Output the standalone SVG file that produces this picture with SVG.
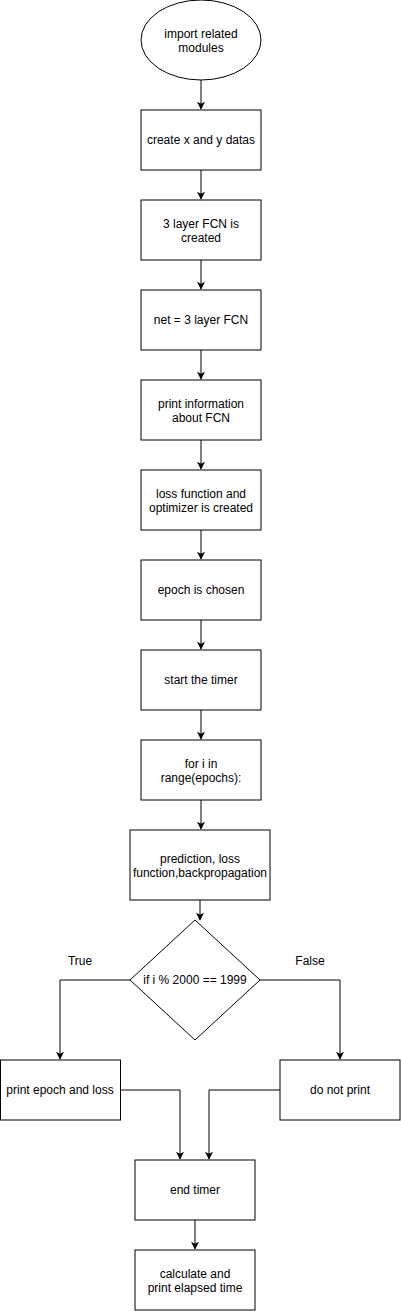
<svg xmlns="http://www.w3.org/2000/svg" width="401" height="1311" viewBox="0 0 401 1311">
<style>
.n{fill:#fff;stroke:#000;stroke-width:1}
.t{font-family:"Liberation Sans",Arial,sans-serif;font-size:12px;fill:#000;text-anchor:middle}
.c{fill:none;stroke:#000;stroke-width:1}
</style>
<defs>
<marker id="a" viewBox="0 0 10 10" refX="9" refY="5" markerWidth="8" markerHeight="8" markerUnits="userSpaceOnUse" orient="auto">
<path d="M0,0 L10,5 L0,10 L2.5,5 Z" fill="#000"/>
</marker>
</defs>
<rect width="401" height="1311" fill="#fff"/>
<g id="connectors">
<path class="c" d="M201,80 V109" marker-end="url(#a)"/>
<path class="c" d="M201,170 V199" marker-end="url(#a)"/>
<path class="c" d="M201,260 V289" marker-end="url(#a)"/>
<path class="c" d="M201,350 V379" marker-end="url(#a)"/>
<path class="c" d="M201,440 V469" marker-end="url(#a)"/>
<path class="c" d="M201,530 V559" marker-end="url(#a)"/>
<path class="c" d="M201,620 V649" marker-end="url(#a)"/>
<path class="c" d="M201,710 V739" marker-end="url(#a)"/>
<path class="c" d="M201,800 V829" marker-end="url(#a)"/>
<path class="c" d="M200,900 V920" marker-end="url(#a)"/>
<path class="c" d="M130,980 H60 V1059" marker-end="url(#a)"/>
<path class="c" d="M260,980 H340 V1059" marker-end="url(#a)"/>
<path class="c" d="M120,1090 H180 V1159" marker-end="url(#a)"/>
<path class="c" d="M280,1090 H209 V1159" marker-end="url(#a)"/>
<path class="c" d="M195,1220 V1249" marker-end="url(#a)"/>
</g>
<g id="n0"><ellipse class="n" cx="201" cy="40" rx="60" ry="40"/><text class="t" x="201" y="38">import related</text><text class="t" x="201" y="52">modules</text></g>
<g id="n1"><rect class="n" x="141" y="110" width="120" height="60"/><text class="t" x="201" y="144">create x and y datas</text></g>
<g id="n2"><rect class="n" x="141" y="200" width="120" height="60"/><text class="t" x="201" y="228">3 layer FCN is</text><text class="t" x="201" y="242">created</text></g>
<g id="n3"><rect class="n" x="141" y="290" width="120" height="60"/><text class="t" x="201" y="324">net = 3 layer FCN</text></g>
<g id="n4"><rect class="n" x="141" y="380" width="120" height="60"/><text class="t" x="201" y="408">print information</text><text class="t" x="201" y="422">about FCN</text></g>
<g id="n5"><rect class="n" x="141" y="470" width="120" height="60"/><text class="t" x="201" y="498">loss function and</text><text class="t" x="201" y="512">optimizer is created</text></g>
<g id="n6"><rect class="n" x="141" y="560" width="120" height="60"/><text class="t" x="201" y="594">epoch is chosen</text></g>
<g id="n7"><rect class="n" x="141" y="650" width="120" height="60"/><text class="t" x="201" y="684">start the timer</text></g>
<g id="n8"><rect class="n" x="141" y="740" width="120" height="60"/><text class="t" x="201" y="768">for i in</text><text class="t" x="201" y="782">range(epochs):</text></g>
<g id="n9"><rect class="n" x="130" y="830" width="140" height="70"/><text class="t" x="200" y="863">prediction, loss</text><text class="t" x="200" y="877">function,backpropagation</text></g>
<g id="n10"><path class="n" d="M195,920 L260,980 L195,1040 L130,980 Z"/><text class="t" x="195" y="984">if i % 2000 == 1999</text></g>
<g id="lblT"><text class="t" x="80" y="965">True</text></g>
<g id="lblF"><text class="t" x="310" y="965">False</text></g>
<g id="n11"><rect class="n" x="0.5" y="1060" width="120" height="60"/><text class="t" x="60" y="1094">print epoch and loss</text></g>
<g id="n12"><rect class="n" x="280" y="1060" width="120" height="60"/><text class="t" x="340" y="1094">do not print</text></g>
<g id="n13"><rect class="n" x="135" y="1160" width="120" height="60"/><text class="t" x="195" y="1194">end timer</text></g>
<g id="n14"><rect class="n" x="135" y="1250" width="120" height="60"/><text class="t" x="195" y="1278">calculate and</text><text class="t" x="195" y="1292">print elapsed time</text></g>
</svg>
